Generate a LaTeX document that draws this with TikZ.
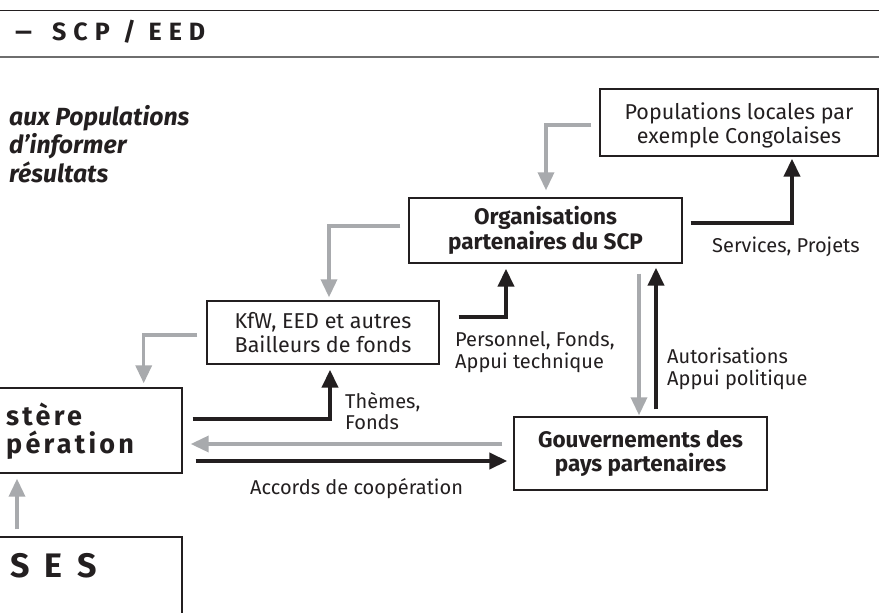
\documentclass[tikz,border=0pt]{standalone}
\usepackage{fontspec}
\setmainfont{Fira Sans}
\usetikzlibrary{arrows.meta,calc}
\definecolor{ink}{RGB}{35,31,32}
\definecolor{gline}{RGB}{168,170,173}
\definecolor{rulegray}{RGB}{110,110,110}
\begin{document}
\begin{tikzpicture}[x=1pt,y=-1pt,
  box/.style={draw=ink,line width=1.4pt,fill=white,inner sep=0pt,align=center,text=ink},
  boxtxt/.style={font=\fontsize{21.5}{24}\selectfont},
  boldtxt/.style={font=\fontsize{22.5}{24.5}\selectfont\bfseries},
  lbl/.style={inner sep=0pt,anchor=west,align=left,text=ink,font=\fontsize{20}{21.5}\selectfont},
  garrow/.style={draw=gline,line width=3.5pt,-{Triangle[width=16pt,length=18pt]}},
  karrow/.style={draw=ink,line width=4pt,-{Triangle[width=16pt,length=18pt]}}
]
\useasboundingbox (0,0) rectangle (879,613);
\fill[white] (0,0) rectangle (879,613);

% header rules and title
\coordinate (tl) at (0,10);
\coordinate (tr) at (879,10);
\coordinate (bl) at (0,57);
\coordinate (br) at (879,57);
\draw[ink,line width=1pt] (tl) -- (tr);
\draw[rulegray,line width=2pt] (bl) -- (br);
\node[anchor=base west,inner sep=0pt,text=ink,
  font=\fontsize{25}{25}\selectfont\bfseries\addfontfeatures{LetterSpace=28}] (title) at (15,40)
  {\makebox[17pt][l]{\resizebox{17pt}{\height}{–}}\hspace{20pt}SCP / EED};

% italic text
\node[anchor=north west,inner sep=0pt,align=left,text=ink,
  font=\fontsize{24.8}{28.5}\selectfont\bfseries\itshape] (ital) at (9,105)
  {aux Populations\\d’informer\\résultats};

% boxes
\node[box,boxtxt,minimum width=278pt,minimum height=67pt] (pop) at (739,122.5)
  {\rule{0pt}{22pt}Populations locales par\\exemple Congolaises};
\node[box,boldtxt,minimum width=273pt,minimum height=65pt] (org) at (545.5,230.5)
  {Organisations\\partenaires du SCP};
\node[box,boxtxt,minimum width=232pt,minimum height=63pt] (kfw) at (323,332.5)
  {KfW, EED et autres\\Bailleurs de fonds};
\node[box,minimum width=282pt,minimum height=85pt] (min) at (41,430.5) {};
\node[anchor=west,inner sep=0pt,align=left,text=ink,
  font=\fontsize{27}{28.5}\selectfont\bfseries\addfontfeatures{LetterSpace=12}] (mintxt) at (6,431)
  {stère\\pération};
\node[box,boldtxt,minimum width=253pt,minimum height=73pt] (gouv) at (640.5,453.5)
  {Gouvernements des\\pays partenaires};
\node[box,minimum width=282pt,minimum height=126pt] (ses) at (41,600) {};
\node[anchor=base west,inner sep=0pt,text=ink,
  font=\fontsize{34}{34}\selectfont\bfseries\addfontfeatures{LetterSpace=45}] (sestxt) at (10,577)
  {SES};

% gray connectors
\draw[garrow] ($(pop.west)+(-8,2.5)$) -| ($(org.north)+(0.5,-7)$);
\draw[garrow] ($(org.west)+(-8,-4.5)$) -| ($(kfw.north)+(6,-3)$);
\draw[garrow] ($(kfw.west)+(-9,2.5)$) -| ($(min.north east)+(-39,-4)$);
\draw[garrow] ($(gouv.west)+(-11,-9.5)$) -- ($(min.east)+(8,13.5)$);
\draw[garrow] ($(org.south)+(93.5,10)$) -- ($(gouv.north)+(-1.5,-1)$);
\draw[garrow] ($(ses.north)+(-24,-7)$) -- ($(min.south)+(-24,5)$);

% black connectors
\draw[karrow] ($(org.east)+(8,-7.5)$) -| ($(pop.south)+(53,2)$);
\draw[karrow] ($(kfw.east)+(19,-15.5)$) -| ($(org.south)+(-39.5,5)$);
\draw[karrow] ($(min.east)+(10,-11.5)$) -| ($(kfw.south)+(7,5)$);
\draw[karrow] ($(min.east)+(13,30.5)$) -- ($(gouv.west)+(-6,7.5)$);
\draw[karrow] ($(gouv.north)+(15.5,-7)$) -- ($(org.south)+(110.5,4)$);

% labels
\node[lbl] (svc) at (712,247) {Services, Projets};
\node[lbl] (pers) at (455,352) {Personnel, Fonds,\\Appui technique};
\node[lbl] (them) at (345,411) {Thèmes,\\Fonds};
\node[lbl] (auto) at (667,369) {Autorisations\\Appui politique};
\node[lbl] (acc) at (250,489) {Accords de coopération};
\end{tikzpicture}
\end{document}
